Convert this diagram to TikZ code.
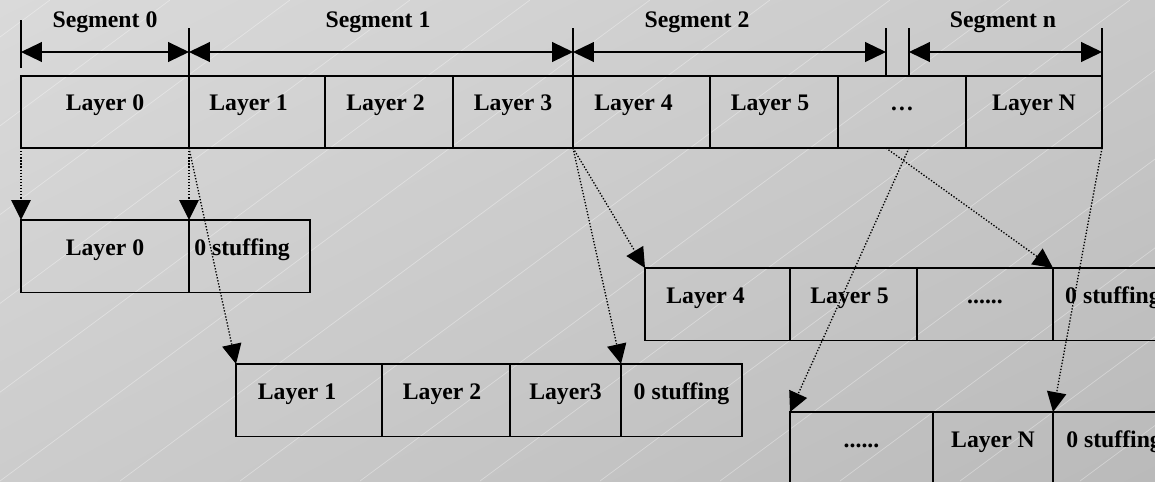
\documentclass[tikz,border=0pt]{standalone}
\usepackage{fontspec}
\setmainfont{Liberation Serif}
\usetikzlibrary{arrows.meta, shadings}
\definecolor{bgtl}{RGB}{218,218,218}
\definecolor{bgtr}{RGB}{201,201,201}
\definecolor{bgbl}{RGB}{204,204,204}
\definecolor{bgbr}{RGB}{186,186,186}
\newcommand{\padr}[1]{\kern#1}
\tikzset{
  cell/.style={draw, line width=1pt, outer sep=0pt, inner sep=0pt, anchor=north west,
    minimum height=14.5mm, text height=9pt, text depth=10.4pt,
    font=\bfseries\fontsize{13.5}{16}\selectfont},
  seglabel/.style={anchor=base, inner sep=0pt, font=\bfseries\fontsize{13.5}{16}\selectfont},
  tick/.style={line width=0.6pt},
  segarrow/.style={line width=0.7pt,
    {Triangle[length=11.9pt,width=11.3pt]}-{Triangle[length=11.9pt,width=11.3pt]}},
  drop/.style={line width=0.75pt, dash pattern=on 0.75pt off 1pt,
    -{Triangle[length=11.3pt,width=11pt]}},
  streak/.style={white, opacity=0.35, line width=0.4pt}
}

\begin{document}
\begin{tikzpicture}[x=0.2mm, y=-0.2mm]
\useasboundingbox (0,0) rectangle (1155,481);
\clip (0,0) rectangle (1155,481);
\shade[upper left=bgtl, upper right=bgtr, lower left=bgbl, lower right=bgbr] (0,0) rectangle (1155,481);
\foreach \i in {-6,...,9} \draw[streak] (\i*120,481) -- ++(650,-481);

\node[cell, minimum width=33.6mm, minimum height=14.4mm] (L0) at (21,76) {Layer 0};
\node[cell, minimum width=27.2mm, minimum height=14.4mm] (L1) at (L0.north east) {Layer 1\padr{9.6pt}};
\node[cell, minimum width=25.6mm, minimum height=14.4mm] (L2) at (L1.north east) {Layer 2\padr{3.9pt}};
\node[cell, minimum width=24mm, minimum height=14.4mm] (L3) at (L2.north east) {Layer 3};
\node[cell, minimum width=27.4mm, minimum height=14.4mm] (L4) at (L3.north east) {Layer 4\padr{9pt}};
\node[cell, minimum width=25.6mm, minimum height=14.4mm] (L5) at (L4.north east) {Layer 5\padr{4.5pt}};
\node[cell, minimum width=25.6mm, minimum height=14.4mm] (Ld) at (L5.north east) {…};
\node[cell, minimum width=27.2mm, minimum height=14.4mm] (LN) at (Ld.north east) {Layer N};

\node[cell, minimum width=33.6mm] (A0) at (21,220) {Layer 0};
\node[cell, minimum width=24.2mm] (A1) at (A0.north east) {0 stuffing\padr{8.5pt}};

\node[cell, minimum width=29.2mm] (B1) at (236,364) {Layer 1\padr{13.6pt}};
\node[cell, minimum width=25.6mm] (B2) at (B1.north east) {Layer 2\padr{4.5pt}};
\node[cell, minimum width=22.2mm] (B3) at (B2.north east) {Layer3};
\node[cell, minimum width=24.2mm] (B4) at (B3.north east) {0 stuffing};

\node[cell, minimum width=29mm] (C4) at (645,268) {Layer 4\padr{13.6pt}};
\node[cell, minimum width=25.4mm] (C5) at (C4.north east) {Layer 5\padr{4.5pt}};
\node[cell, minimum width=27.2mm] (Cd) at (C5.north east) {......};
\node[cell, minimum width=26mm] (C0) at (Cd.north east) {0 stuffing\padr{5.7pt}};

\node[cell, minimum width=28.6mm] (D1) at (790,412) {......};
\node[cell, minimum width=24mm] (DN) at (D1.north east) {Layer N};
\node[cell, minimum width=26mm] (D0) at (DN.north east) {0 stuffing\padr{4.5pt}};

\draw[tick] (21,20) coordinate (k0) -- (21,68);
\foreach \n/\x in {1/189,2/573,3/886,4/909,5/1102}
  \draw[tick] (\x,28) coordinate (k\n) -- (\x,76);
\coordinate (ar) at (0,52);
\draw[segarrow] (k0 |- ar) -- (k1 |- ar);
\draw[segarrow] (k1 |- ar) -- (k2 |- ar);
\draw[segarrow] (k2 |- ar) -- (k3 |- ar);
\draw[segarrow] (k4 |- ar) -- (k5 |- ar);
\node[seglabel] (s0) at (105,27) {Segment 0};
\node[seglabel] (s1) at (378,27) {Segment 1};
\node[seglabel] (s2) at (697,27) {Segment 2};
\node[seglabel] (sn) at (1003,27) {Segment n};

\draw[drop] (L0.south west) -- (A0.north west);
\draw[drop] (L0.south east) -- (A1.north west);
\draw[drop] (L0.south east) -- (B1.north west);
\draw[drop] (L3.south east) -- (B4.north west);
\draw[drop] (L3.south east) -- (C4.north west);
\draw[drop] (k3 |- Ld.south) -- (C0.north west);
\draw[drop] (k4 |- Ld.south) -- (D1.north west);
\draw[drop] (LN.south east) -- (DN.north east);
\end{tikzpicture}
\end{document}
